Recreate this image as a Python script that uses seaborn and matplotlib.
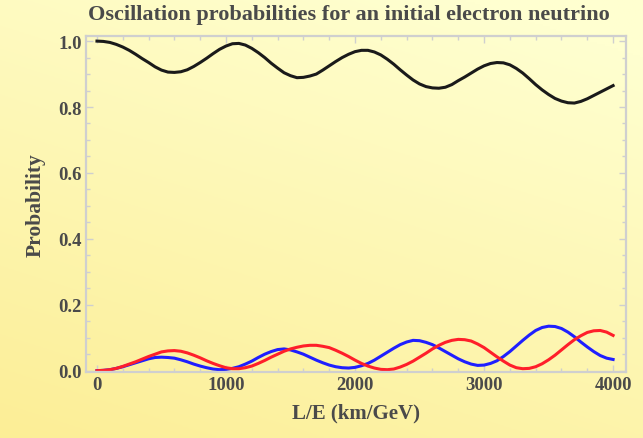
import numpy as np
import pandas as pd
import matplotlib
matplotlib.use("Agg")
import matplotlib.pyplot as plt
from matplotlib.ticker import MultipleLocator
import seaborn as sns

# L/E values (km/GeV)
le = list(range(0, 4001, 50))

p_ee = [1.000, 0.999, 0.996, 0.990, 0.982, 0.972, 0.960, 0.947, 0.935, 0.922,
        0.912, 0.906, 0.905, 0.907, 0.913, 0.923, 0.935, 0.948, 0.962, 0.975,
        0.985, 0.992, 0.993, 0.988, 0.978, 0.965, 0.950, 0.933, 0.918, 0.904,
        0.895, 0.889, 0.890, 0.894, 0.900, 0.912, 0.925, 0.938, 0.950, 0.960,
        0.968, 0.972, 0.972, 0.967, 0.958, 0.945, 0.930, 0.913, 0.897, 0.882,
        0.870, 0.862, 0.858, 0.857, 0.860, 0.868, 0.880, 0.891, 0.903, 0.915,
        0.925, 0.932, 0.935, 0.934, 0.928, 0.917, 0.903, 0.886, 0.868, 0.852,
        0.838, 0.826, 0.818, 0.813, 0.812, 0.817, 0.825, 0.835, 0.845, 0.855,
        0.865]

p_blue = [0.000, 0.001, 0.003, 0.007, 0.012, 0.018, 0.024, 0.030, 0.036, 0.040,
          0.041, 0.040, 0.038, 0.033, 0.027, 0.020, 0.014, 0.009, 0.005, 0.003,
          0.004, 0.007, 0.012, 0.020, 0.029, 0.040, 0.050, 0.058, 0.064, 0.066,
          0.063, 0.057, 0.050, 0.041, 0.032, 0.024, 0.017, 0.012, 0.009, 0.008,
          0.010, 0.015, 0.022, 0.032, 0.044, 0.056, 0.068, 0.079, 0.087, 0.092,
          0.091, 0.086, 0.079, 0.069, 0.058, 0.047, 0.036, 0.027, 0.020, 0.016,
          0.017, 0.022, 0.030, 0.043, 0.058, 0.075, 0.092, 0.108, 0.122, 0.131,
          0.135, 0.134, 0.128, 0.117, 0.103, 0.087, 0.072, 0.058, 0.046, 0.038,
          0.034]

p_red = [0.000, 0.001, 0.003, 0.007, 0.013, 0.020, 0.027, 0.035, 0.043, 0.050,
         0.057, 0.060, 0.061, 0.059, 0.054, 0.047, 0.039, 0.030, 0.022, 0.015,
         0.009, 0.006, 0.006, 0.009, 0.014, 0.022, 0.031, 0.041, 0.050, 0.059,
         0.066, 0.071, 0.075, 0.077, 0.077, 0.074, 0.070, 0.062, 0.053, 0.043,
         0.032, 0.022, 0.014, 0.008, 0.004, 0.003, 0.005, 0.011, 0.019, 0.029,
         0.041, 0.053, 0.066, 0.077, 0.086, 0.092, 0.095, 0.094, 0.090, 0.081,
         0.070, 0.056, 0.042, 0.029, 0.017, 0.009, 0.006, 0.007, 0.012, 0.021,
         0.033, 0.047, 0.063, 0.079, 0.094, 0.106, 0.116, 0.121, 0.122, 0.117,
         0.107]

series_names = ["ee", "blue", "red"]
series_colors = ["#1a1a1a", "#1f1fff", "#ff1f2a"]

df = pd.concat([
    pd.DataFrame({"LE": le, "P": p_ee, "s": "ee"}),
    pd.DataFrame({"LE": le, "P": p_blue, "s": "blue"}),
    pd.DataFrame({"LE": le, "P": p_red, "s": "red"}),
], ignore_index=True)

W, H = 643, 439
fig = plt.figure(figsize=(W / 100, H / 100), dpi=100)

# gradient background
bg = fig.add_axes([0, 0, 1, 1], zorder=-10)
yy, xx = np.mgrid[0:1:200j, 0:1:300j]
t = np.clip(0.75 * yy + 0.35 * (1 - xx) - 0.1, 0, 1)
top = np.array([255, 255, 208]) / 255
bot = np.array([252, 238, 150]) / 255
img = top[None, None, :] * (1 - t[..., None]) + bot[None, None, :] * t[..., None]
bg.imshow(img, aspect="auto", extent=[0, 1, 0, 1], origin="upper")
bg.axis("off")

ax = fig.add_axes([86 / W, 1 - 373 / H, 540 / W, (373 - 36.5) / H])
ax.set_facecolor("none")

sns.lineplot(data=df, x="LE", y="P", hue="s", hue_order=series_names,
             palette=series_colors, linewidth=2.2, legend=False, ax=ax,
             estimator=None, sort=False)

ax.set_xlim(-85, 4100)
ax.set_ylim(-0.004, 1.017)
ax.xaxis.set_major_locator(MultipleLocator(1000))
ax.xaxis.set_minor_locator(MultipleLocator(200))
ax.yaxis.set_major_locator(MultipleLocator(0.2))
ax.yaxis.set_minor_locator(MultipleLocator(0.05))
ax.set_yticks([0.0, 0.2, 0.4, 0.6, 0.8, 1.0])
ax.set_yticklabels(["0.0", "0.2", "0.4", "0.6", "0.8", "1.0"])

gray = "#cfcfcf"
txt = "#4a4a4a"
for sp in ax.spines.values():
    sp.set_color(gray)
    sp.set_linewidth(1.6)
ax.tick_params(which="both", direction="in", top=True, right=True, color=gray,
               width=1.0, labelsize=13.5, labelcolor=txt)
ax.tick_params(which="major", length=5, pad=3)
ax.tick_params(which="minor", length=3)
for lab in ax.get_xticklabels() + ax.get_yticklabels():
    lab.set_family("Liberation Serif")
    lab.set_fontweight("bold")

ax.set_xlabel("L/E (km/GeV)", family="Liberation Serif", fontsize=15,
              fontweight="bold", color=txt, labelpad=7)
ax.set_ylabel("Probability", family="Liberation Serif", fontsize=15.5,
              fontweight="bold", color=txt, labelpad=9)
fig.text(349 / W, 1 - 15 / H,
         "Oscillation probabilities for an initial electron neutrino",
         family="Liberation Serif", fontsize=16, fontweight="bold", color=txt,
         ha="center", va="center")

fig.savefig("out.png", dpi=100)
